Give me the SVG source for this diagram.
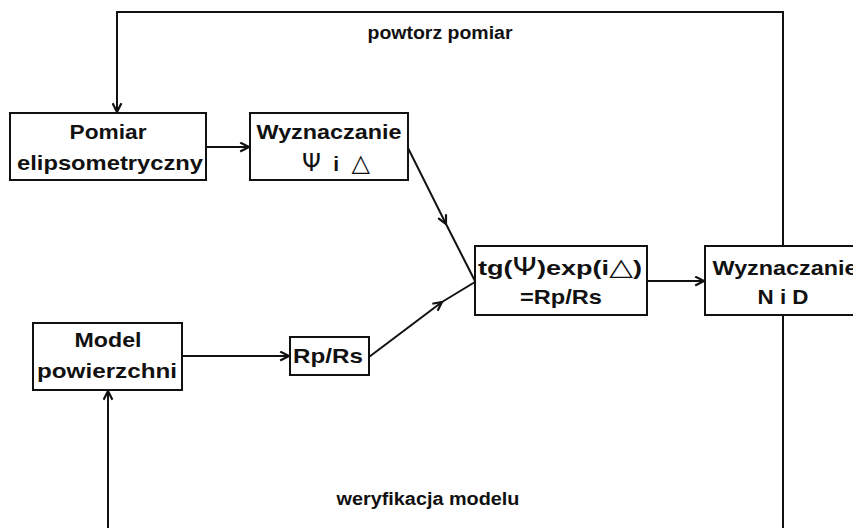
<svg xmlns="http://www.w3.org/2000/svg" width="853" height="528" viewBox="0 0 853 528">
  <style>
    .box { fill: #ffffff; stroke: #111111; stroke-width: 2; }
    .wire { fill: none; stroke: #111111; stroke-width: 2; }
    .lbl { font-family: "Liberation Sans", Arial, sans-serif; font-weight: bold; font-size: 21px; fill: #111111; text-anchor: middle; }
    .cap { font-size: 18px; }
    .sym { font-family: "DejaVu Sans", "Liberation Sans", sans-serif; font-weight: normal; font-size: 24px; }
  </style>
  <defs>
    <marker id="arr" viewBox="0 0 10 10" refX="9" refY="5" markerWidth="11" markerHeight="11" markerUnits="userSpaceOnUse" orient="auto">
      <path d="M1,1 L9,5 L1,9" fill="none" stroke="#111111" stroke-width="2"/>
    </marker>
  </defs>

  <rect width="853" height="528" fill="#ffffff"/>

  <!-- connectors -->
  <g id="connectors">
    <!-- repeat-measurement loop -->
    <polyline class="wire" points="783,528 783,12 117,12 117,112" marker-end="url(#arr)"/>
    <!-- model verification loop -->
    <line class="wire" x1="108" y1="528" x2="108" y2="391" marker-end="url(#arr)"/>
    <line class="wire" x1="206" y1="147" x2="249" y2="147" marker-end="url(#arr)"/>
    <line class="wire" x1="182" y1="356" x2="289" y2="356" marker-end="url(#arr)"/>
    <line class="wire" x1="647" y1="281" x2="704" y2="281" marker-end="url(#arr)"/>
    <!-- diagonal feeds with mid-line arrowheads -->
    <line class="wire" x1="408" y1="148" x2="446" y2="224" marker-end="url(#arr)"/>
    <line class="wire" x1="446" y1="224" x2="475" y2="281"/>
    <line class="wire" x1="369" y1="357" x2="442" y2="302" marker-end="url(#arr)"/>
    <line class="wire" x1="442" y1="302" x2="475" y2="282"/>
  </g>

  <text class="lbl cap" x="440" y="39" textLength="145" lengthAdjust="spacingAndGlyphs">powtorz pomiar</text>
  <text class="lbl cap" x="428" y="505" textLength="183" lengthAdjust="spacingAndGlyphs">weryfikacja modelu</text>

  <g id="pomiar">
    <rect class="box" x="10" y="113" width="196" height="67"/>
    <text class="lbl" x="108" y="139" textLength="77" lengthAdjust="spacingAndGlyphs">Pomiar</text>
    <text class="lbl" x="110" y="170" textLength="186" lengthAdjust="spacingAndGlyphs">elipsometryczny</text>
  </g>

  <g id="psi-delta">
    <rect class="box" x="250" y="113" width="158" height="67"/>
    <text class="lbl" x="329" y="139" textLength="145" lengthAdjust="spacingAndGlyphs">Wyznaczanie</text>
    <text class="lbl" x="336" y="171" textLength="68" lengthAdjust="spacing"><tspan class="sym">Ψ</tspan> i <tspan class="sym">△</tspan></text>
  </g>

  <g id="model">
    <rect class="box" x="33" y="323" width="149" height="67"/>
    <text class="lbl" x="108" y="347" textLength="67" lengthAdjust="spacingAndGlyphs">Model</text>
    <text class="lbl" x="107" y="378" textLength="140" lengthAdjust="spacingAndGlyphs">powierzchni</text>
  </g>

  <g id="rp-rs">
    <rect class="box" x="290" y="337" width="79" height="38"/>
    <text class="lbl" x="328" y="363" textLength="70" lengthAdjust="spacingAndGlyphs">Rp/Rs</text>
  </g>

  <g id="rownanie">
    <rect class="box" x="475" y="246" width="172" height="69"/>
    <text class="lbl" x="560" y="275" textLength="164" lengthAdjust="spacingAndGlyphs">tg(<tspan class="sym">Ψ</tspan>)exp(i<tspan class="sym">△</tspan>)</text>
    <text class="lbl" x="561" y="304" textLength="82" lengthAdjust="spacingAndGlyphs">=Rp/Rs</text>
  </g>

  <g id="n-i-d">
    <rect class="box" x="705" y="246" width="160" height="69"/>
    <text class="lbl" x="785" y="275" textLength="145" lengthAdjust="spacingAndGlyphs">Wyznaczanie</text>
    <text class="lbl" x="783" y="304" textLength="51" lengthAdjust="spacingAndGlyphs">N i D</text>
  </g>
</svg>
